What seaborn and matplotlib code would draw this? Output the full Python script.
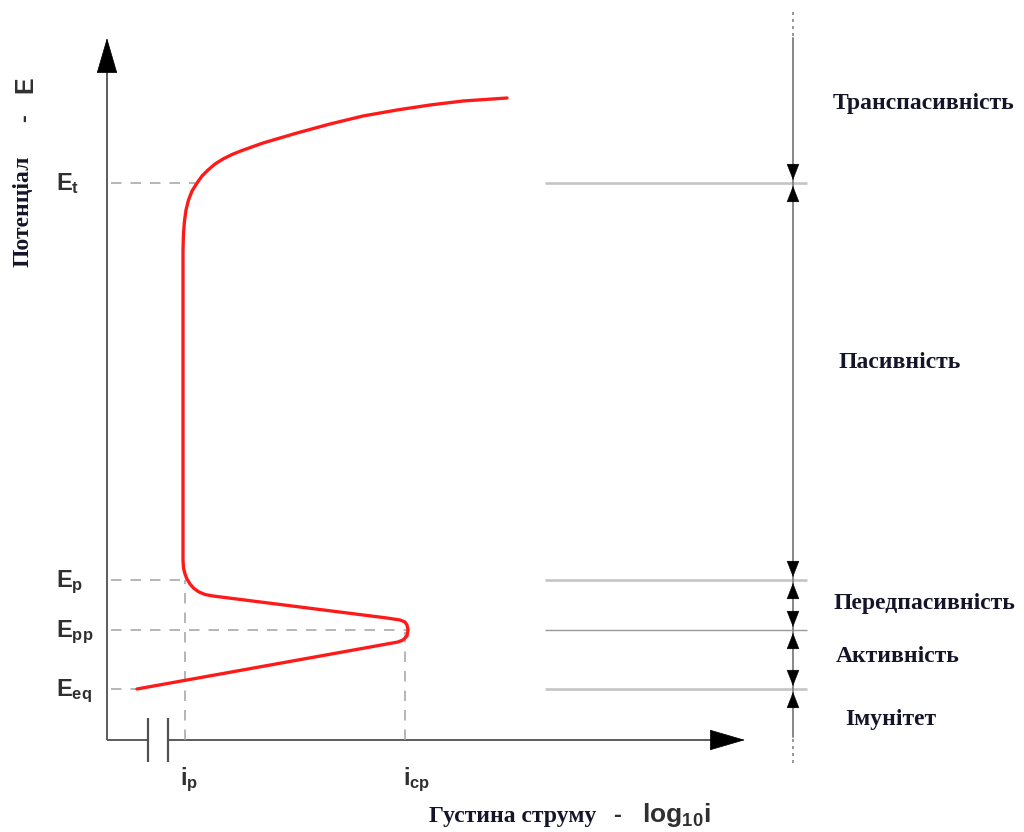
import matplotlib
matplotlib.use("Agg")
import matplotlib.pyplot as plt
import seaborn as sns
import pandas as pd

sns.set_theme(style="white")
plt.rcParams["mathtext.fontset"] = "custom"
plt.rcParams["mathtext.bf"] = "Liberation Sans:bold"
plt.rcParams["mathtext.rm"] = "Liberation Sans:bold"

# schematic polarisation curve, x = log10 i, y = E (arbitrary units, origin at axes corner)
curve_logi = [30, 291, 296, 300, 301, 300, 298, 293, 280, 106, 98, 92, 87, 83, 80, 78,
              76.5, 76, 76, 76.5, 77.5, 79, 81.5, 85, 90, 95, 101, 108, 116, 125, 135,
              156, 190, 223, 256, 290, 323, 356, 400]
curve_E = [51, 98, 100, 104, 110, 115, 118, 120, 122, 144, 145.5, 148, 151.5, 156, 161, 166,
           172, 180, 490, 507, 519, 530, 540, 549, 557, 564, 570, 576, 581, 585.5, 589.5,
           597, 607, 616, 624, 630, 635, 639, 642]

level_names = ["E_{eq}", "E_{pp}", "E_p", "E_t"]
level_values = [51, 110, 160, 557]
level_curve_x = [30, 300, 80, 88]     # where the dashed guide meets the curve

current_names = ["i_p", "i_{cp}"]
current_values = [78, 298]
current_levels = [160, 108]
current_label_x = [73, 296]

regions = ["Імунітет", "Активність", "Передпасивність", "Пасивність", "Транспасивність"]
region_label_y = [20, 83, 137, 378, 637]
region_label_x = [784, 791, 817, 793, 817]

x_break = [41, 61]
scale_x = 686
scale_top, scale_bottom = 702, 3
band_x0, band_x1 = 438, 700

GREY_DASH = "#a0a0a0"
AXIS = "#606060"
TXT = "#15152a"
PX = 0.72  # points per pixel at dpi 100

fig = plt.figure(figsize=(10.24, 8.32), dpi=100)
ax = fig.add_axes([0, 0, 1, 1])
ax.set_xlim(-107, 917)
ax.set_ylim(-92, 740)
ax.axis("off")

# axes with arrow heads
ax.plot([0, 0], [0, 672], color=AXIS, lw=2 * PX, solid_capstyle="butt")
ax.annotate("", xy=(0, 702), xytext=(0, 668),
            arrowprops=dict(arrowstyle="-|>,head_length=24,head_width=7",
                            mutation_scale=1, color="black", lw=0.5,
                            shrinkA=0, shrinkB=0))
ax.plot([0, x_break[0]], [0, 0], color=AXIS, lw=2 * PX, solid_capstyle="butt")
ax.plot([x_break[1], 608], [0, 0], color=AXIS, lw=2 * PX, solid_capstyle="butt")
ax.annotate("", xy=(638, 0), xytext=(604, 0),
            arrowprops=dict(arrowstyle="-|>,head_length=24,head_width=7",
                            mutation_scale=1, color="black", lw=0.5,
                            shrinkA=0, shrinkB=0))
for xb in x_break:
    ax.plot([xb, xb], [-22, 22], color="#505050", lw=2.2 * PX, solid_capstyle="butt")

# dashed guides
dash = (0, (7, 6))
for lv, cx in zip(level_values, level_curve_x):
    ax.plot([4, cx], [lv, lv], color=GREY_DASH, lw=1.5 * PX, ls=dash)
for cv, cl in zip(current_values, current_levels):
    ax.plot([cv, cv], [0, cl], color=GREY_DASH, lw=1.5 * PX, ls=dash)

# curve
df = pd.DataFrame({"logi": curve_logi, "E": curve_E})
sns.lineplot(data=df, x="logi", y="E", sort=False, estimator=None, ax=ax,
             color="#ff1a1a", lw=3.3 * PX, solid_capstyle="round",
             solid_joinstyle="round")

# level labels
for name, lv in zip(level_names, level_values):
    ax.text(-51, lv - 7, r"$\mathbf{%s}$" % name, fontsize=17, color="#303030",
            ha="left", va="baseline")
for name, lx in zip(current_names, current_label_x):
    ax.text(lx, -45, r"$\mathbf{%s}$" % name, fontsize=17, color="#303030",
            ha="left", va="baseline")

# right hand scale
for lv in level_values:
    lw = 1.4 if lv == 110 else 2.6
    col = "#9a9a9a" if lv == 110 else "#c4c4c4"
    ax.plot([band_x0, band_x1], [lv, lv], color=col, lw=lw * PX, solid_capstyle="butt")
ax.plot([scale_x, scale_x], [scale_bottom, scale_top], color="#8a8a8a", lw=2 * PX)
ax.plot([scale_x, scale_x], [scale_top + 2, 728], color="#9a9a9a", lw=2 * PX, ls=(0, (1.5, 2)))
ax.plot([scale_x, scale_x], [-23, scale_bottom - 2], color="#9a9a9a", lw=2 * PX, ls=(0, (1.5, 2)))
for lv in level_values:
    for side in (1, -1):
        ax.annotate("", xy=(scale_x, lv + side * 3), xytext=(scale_x, lv + side * 18),
                    arrowprops=dict(arrowstyle="-|>,head_length=11,head_width=4.3",
                                    mutation_scale=1, color="black", lw=0.3,
                                    shrinkA=0, shrinkB=0))

for name, rx, ry in zip(regions, region_label_x, region_label_y):
    ax.text(rx, ry, name, fontsize=17, fontweight="bold", family="Liberation Serif",
            color=TXT, ha="center", va="center")

# axis titles
ax.text(-84, 529, "Потенціал", rotation=90, fontsize=17, fontweight="bold",
        family="Liberation Serif", color=TXT, ha="center", va="center")
ax.text(-82, 622, "-", rotation=90, fontsize=17, fontweight="bold",
        family="Liberation Sans", color="#303030", ha="center", va="center")
ax.text(-82, 655, "E", rotation=90, fontsize=18, fontweight="bold",
        family="Liberation Sans", color="#303030", ha="center", va="center")

ax.text(406, -82, "Густина струму", fontsize=17, fontweight="bold",
        family="Liberation Serif", color=TXT, ha="center", va="baseline")
ax.text(510, -82, "-", fontsize=17, fontweight="bold",
        family="Liberation Sans", color="#303030", ha="center", va="baseline")
ax.text(535, -82, r"$\mathbf{log_{10}i}$", fontsize=19, color="#303030",
        ha="left", va="baseline")

fig.savefig("out.png", dpi=100)
plt.close(fig)
